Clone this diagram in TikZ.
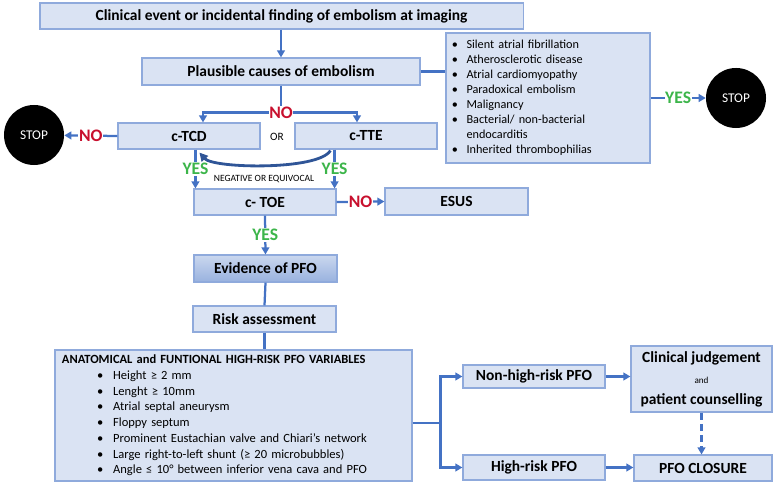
\documentclass[tikz,border=0pt]{standalone}
\usepackage{fontspec}
\setmainfont{Carlito}
\usepackage{tikz}
\usetikzlibrary{arrows.meta}
\usetikzlibrary{calc}
\usetikzlibrary{shapes}
\definecolor{boxfill}{HTML}{DAE3F3}
\definecolor{boxline}{HTML}{8FAADC}
\definecolor{flow}{HTML}{4472C4}
\definecolor{loopblue}{HTML}{2F5597}
\definecolor{yesgreen}{HTML}{3CB54A}
\definecolor{nored}{HTML}{C8102E}

\begin{document}
\begin{tikzpicture}[x=0.025cm,y=-0.025cm]
      \newcommand{\yeslbl}{node[midway,fill=white,inner sep=0.5pt,text=yesgreen,font=\bfseries\fontsize{12.5}{12}\selectfont] {YES}}
      \newcommand{\nolbl}{node[midway,fill=white,inner sep=0.5pt,text=nored,font=\bfseries\fontsize{12.5}{12}\selectfont] {NO}}
      \tikzstyle{box} = [draw=boxline,fill=boxfill,line width=0.8pt,inner sep=0pt,align=center,
        font=\bfseries\fontsize{11}{13}\selectfont]
      \tikzstyle{edge}  = [line width=1.6pt,draw=flow]
      \tikzstyle{dedge} = [line width=1.6pt,-{Triangle[length=5pt,width=5.5pt]},draw=flow]
      \tikzstyle{stop} = [circle,fill=black,text=white,minimum size=1.5cm,inner sep=0pt,
        font=\fontsize{9.5}{9}\selectfont]
      \tikzstyle{listfont} = [font=\fontsize{8.7}{10.7}\selectfont]

      \useasboundingbox (0,0) rectangle (780,484);

      \node[box,minimum width=12.075cm,minimum height=0.65cm] (event) at (281.5,16) {Clinical event or incidental finding of embolism at imaging};
      \node[box,minimum width=6.95cm,minimum height=0.675cm] (causes) at (281,71.5) {Plausible causes of embolism};
      \node[box,listfont,minimum height=3.25cm,text width=4.8cm,inner xsep=0.15cm,align=left] (causelist) at (548,98) {%
        \begin{tabular}{@{}l@{\hspace{6pt}}l@{}}
        \textbullet & Silent atrial fibrillation\\
        \textbullet & Atherosclerotic disease\\
        \textbullet & Atrial cardiomyopathy\\
        \textbullet & Paradoxical embolism\\
        \textbullet & Malignancy\\
        \textbullet & Bacterial/ non-bacterial\\
                    & endocarditis\\
        \textbullet & Inherited thrombophilias
        \end{tabular}};
      \node[stop] (stopright) at (736,98) {STOP};
      \node[stop] (stopleft) at (34,135) {STOP};
      \node[box,minimum width=3.55cm,minimum height=0.65cm] (tcd) at (189,136) {c-TCD};
      \node[box,minimum width=3.55cm,minimum height=0.65cm] (tte) at (366,136) {c-TTE};
      \node[font=\fontsize{8}{8}\selectfont] (or) at (277,137) {OR};
      \node[box,minimum width=3.55cm,minimum height=0.65cm] (toe) at (265,202) {c- TOE};
      \node[box,minimum width=3.575cm,minimum height=0.675cm] (esus) at (456.5,201.5) {ESUS};
      \node[box,top color=boxfill!55!flow!50,bottom color=flow!55,minimum width=3.575cm,minimum height=0.675cm] (pfo) at (265.5,268.5) {Evidence of PFO};
      \node[box,minimum width=3.575cm,minimum height=0.65cm] (risk) at (264.5,319) {Risk assessment};
      \node[box,font=\fontsize{8.9}{11.2}\selectfont,minimum height=3.275cm,text width=8.575cm,inner xsep=0.175cm,align=left] (variables) at (233.5,415.5) {%
        \begin{tabular}{@{\hspace{25pt}}l@{\hspace{7pt}}l@{}}
        \multicolumn{2}{@{}l@{}}{\bfseries ANATOMICAL and FUNTIONAL HIGH-RISK PFO VARIABLES}\\
        \textbullet & Height ≥ 2 mm\\
        \textbullet & Lenght ≥ 10mm\\
        \textbullet & Atrial septal aneurysm\\
        \textbullet & Floppy septum\\
        \textbullet & Prominent Eustachian valve and Chiari’s network\\
        \textbullet & Large right-to-left shunt (≥ 20 microbubbles)\\
        \textbullet & Angle ≤ 10° between inferior vena cava and PFO
        \end{tabular}};
      \node[box,minimum width=3.55cm,minimum height=0.575cm] (nonhigh) at (534,376.5) {Non-high-risk PFO};
      \node[box,minimum width=3.55cm,minimum height=0.625cm] (high) at (534,467.5) {High-risk PFO};
      \node[box,minimum width=3.525cm,minimum height=1.65cm] (clinical) at (701.5,379) {Clinical judgement\\[2pt]
        {\mdseries\fontsize{6.5}{7}\selectfont and}\\[2pt] patient counselling};
      \node[box,minimum width=3.45cm,minimum height=0.65cm] (closure) at (703,468) {PFO CLOSURE};

      \coordinate (nofork) at ($(causes.south)+(0,27)$);
      \coordinate (yesleft) at ($(toe.north west)+(2,0)$);
      \coordinate (yesright) at ($(toe.north east)+(-2,0)$);
      \coordinate (split) at ($(variables.east)+(28,7.5)$);

      \draw[dedge] (causes.north |- event.south) -- (causes.north);
      \draw[edge] (causes.east) -- (causes.east -| causelist.west);
      \draw[dedge] (causelist.east) -- (stopright) \yeslbl;
      \draw[edge] (causes.south) -- (nofork);
      \draw[dedge] (nofork) -| ($(tcd.north)+(14,0)$);
      \draw[dedge] (nofork) -| ($(tte.north)+(-9,0)$);
      \node[fill=white,inner sep=0.5pt,text=nored,font=\bfseries\fontsize{12.5}{12}\selectfont] (nolabel) at (nofork) {NO};
      \draw[dedge] (tcd.west) -- (stopleft) \nolbl;
      \draw[dedge] (tcd.south -| yesleft) -- (yesleft) \yeslbl;
      \draw[dedge] (tte.south -| yesright) -- (yesright) \yeslbl;
      \draw[line width=2pt,draw=loopblue,-{Triangle[length=6pt,width=6pt]}] ($(tte.south west)+(36,1)$)
        .. controls +(-12,20) and +(14,16) .. ($(tcd.south west)+(82,3)$);
      \node[font=\fontsize{6.8}{7}\selectfont] (negative) at (264,179) {NEGATIVE OR EQUIVOCAL};
      \draw[dedge] (toe.east) -- (esus.west) \nolbl;
      \draw[dedge] (toe.south) -- (pfo.north) \yeslbl;
      \draw[edge] (pfo.south) -- (risk.north);
      \draw[edge] (risk.south) -- (risk.south |- variables.north);
      \draw[edge] (variables.east |- split) -- (split);
      \draw[dedge] (split) |- (nonhigh.west);
      \draw[dedge] (split) |- (high.west);
      \draw[dedge] (nonhigh.east) -- (nonhigh.east -| clinical.west);
      \draw[dedge] (high.east) -- (high.east -| closure.west);
      \draw[dedge,dash pattern=on 5pt off 3pt] (clinical.south) -- (clinical.south |- closure.north);
\end{tikzpicture}
\end{document}
